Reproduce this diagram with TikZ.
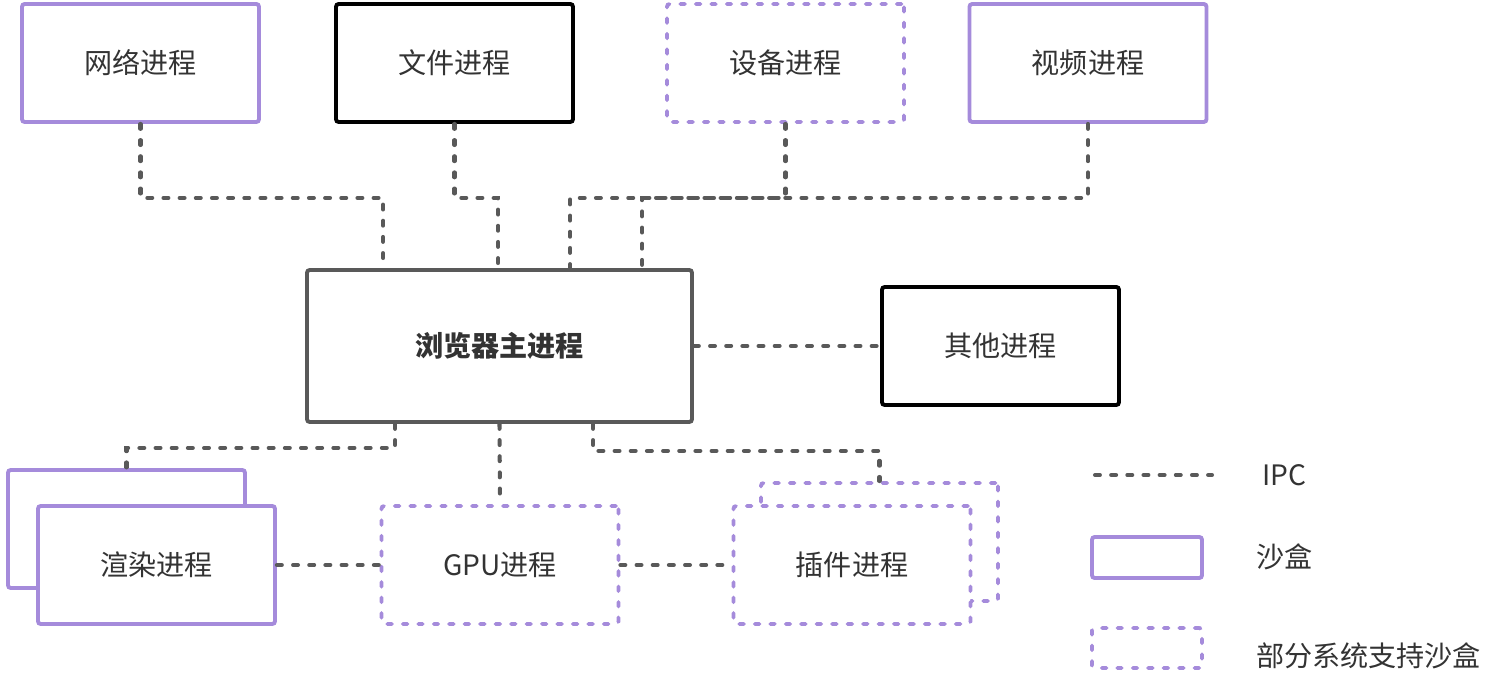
\documentclass[tikz,border=0pt]{standalone}
\usepackage{fontspec}
\setmainfont{Noto Sans CJK SC}
\usetikzlibrary{calc, positioning}
\definecolor{sandboxpurple}{HTML}{A58BDB}
\definecolor{ipcgray}{HTML}{595959}
\definecolor{textgray}{HTML}{333333}
\tikzstyle{proc} = [rectangle, line width=2.2pt, rounded corners=1.5pt, minimum width=4.74cm, minimum height=2.36cm, text centered, fill=white, text=textgray, font=\fontsize{16pt}{19pt}\selectfont]
\tikzstyle{sandbox} = [proc, draw=sandboxpurple]
\tikzstyle{partial} = [proc, draw=sandboxpurple, line cap=round, dash pattern=on 2.6pt off 6.2pt]
\tikzstyle{plain} = [proc, draw=black]
\tikzstyle{ipc} = [draw=ipcgray, line width=2.3pt, line cap=round, dash pattern=on 2.8pt off 6.4pt]
\tikzstyle{legend} = [text=textgray, anchor=west, font=\fontsize{16pt}{19pt}\selectfont]

\begin{document}
\begin{tikzpicture}[x=0.02cm, y=-0.02cm]
	\useasboundingbox (0,0) rectangle (1492,692);
	% top row
	\node (Network) [sandbox] at (140.5,63) {网络进程};
	\node (File) [plain] at (454.5,63) {文件进程};
	\node (Device) [partial] at (785.5,63) {设备进程};
	\node (Video) [sandbox] at (1088,63) {视频进程};
	% middle
	\node (Main) [proc, draw=ipcgray, minimum width=7.7cm, minimum height=3.04cm, font=\fontsize{16pt}{19pt}\selectfont\bfseries] at (499.5,346) {浏览器主进程};
	\node (Other) [plain] at (1000.5,346) {其他进程};
	% bottom row
	\node (RenderBack) [sandbox] at (126.5,529) {};
	\node (Render) [sandbox] at (156.5,565) {渲染进程};
	\node (GPU) [partial] at (500,565) {GPU进程};
	\node (PluginBack) [partial] at (879.5,542) {};
	\node (Plugin) [partial] at (852,565) {插件进程};
	% ipc links
	\draw [ipc] (Network.south) -- ++(0,74) -| ($(Main.north west)+(78,0)$);
	\draw [ipc] (File.south) -- ++(0,74) -| ($(Main.north west)+(193,0)$);
	\draw [ipc] (Device.south) -- ++(0,74) -| ($(Main.north west)+(265,0)$);
	\draw [ipc] (Video.south) -- ++(0,74) -| ($(Main.north west)+(337,0)$);
	\draw [ipc] (Main.east) -- (Other.west);
	\draw [ipc] ($(Main.south west)+(90,0)$) -- ++(0,24) -| (RenderBack.north);
	\draw [ipc] (Main.south) -- (GPU.north);
	\draw [ipc] ($(Main.south west)+(288,0)$) -- ++(0,27) -| (PluginBack.north);
	\draw [ipc] (Render.east) -- (GPU.west);
	\draw [ipc] (GPU.east) -- (Plugin.west);
	% legend
	\coordinate (IPCStart) at (1095,475);
	\coordinate (IPCEnd) at (1212,475);
	\draw [ipc] (IPCStart) -- (IPCEnd);
	\node (IPCLabel) [legend] at (1256,475) {IPC};
	\node (SandboxKey) [sandbox, minimum width=2.2cm, minimum height=0.82cm] at (1147,557.5) {};
	\node (SandboxLabel) [legend] at (1250,557) {沙盒};
	\node (PartialKey) [partial, minimum width=2.2cm, minimum height=0.8cm] at (1147,648) {};
	\node (PartialLabel) [legend] at (1250,656) {部分系统支持沙盒};
\end{tikzpicture}
\end{document}
